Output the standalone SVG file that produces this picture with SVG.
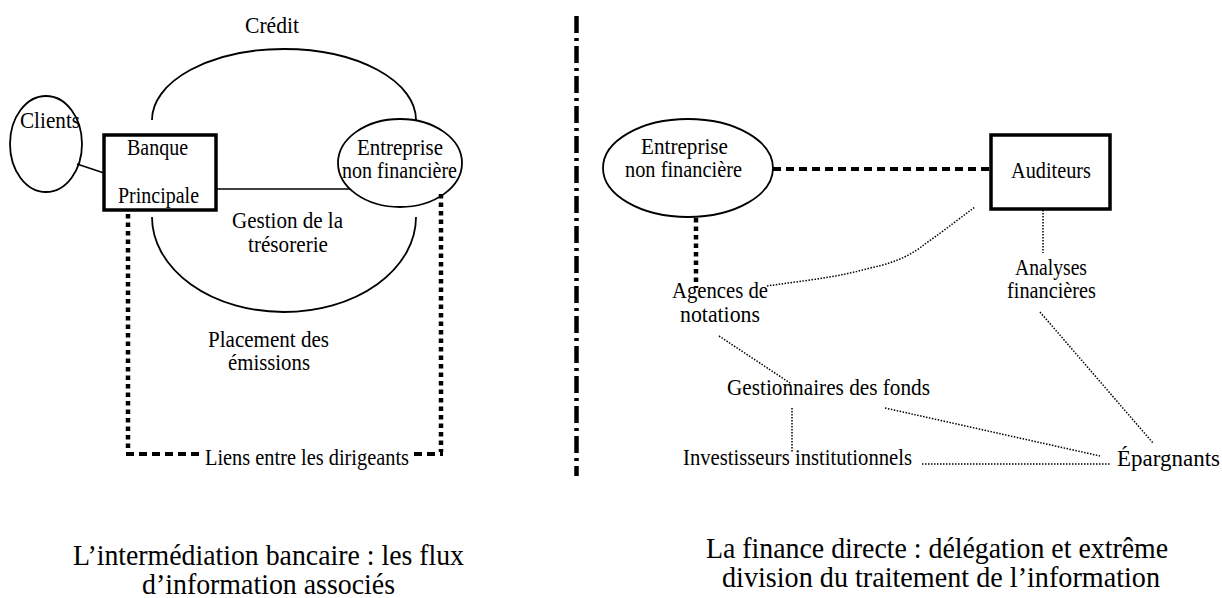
<svg xmlns="http://www.w3.org/2000/svg" width="1222" height="598" viewBox="0 0 1222 598">
  <style>
    text { font-family: "Liberation Serif", "Times New Roman", serif; font-size: 23px; fill: #000; }
    .title { font-size: 29px; }
    .shape { fill: none; stroke: #000; stroke-width: 1.8; }
    .box { fill: #fff; stroke: #000; stroke-width: 3.5; }
    .thin { fill: none; stroke: #000; stroke-width: 1.5; }
    .dots { fill: none; stroke: #000; stroke-width: 1.5; stroke-dasharray: 1.5 1.5; }
    .sq { fill: none; stroke: #000; stroke-width: 4.5; stroke-dasharray: 4.5 4; }
    .dash { fill: none; stroke: #000; stroke-width: 4; stroke-dasharray: 8 5; }
    .divider { fill: none; stroke: #000; stroke-width: 4.5; stroke-dasharray: 17 5 3 5; }
  </style>

  <!-- connectors and flows -->
  <g id="connectors">
    <!-- bank side -->
    <path class="shape" d="M152,120 A132,71 0 0 1 416,120"/>
    <path class="shape" d="M152,217 A132,95 0 0 0 416,217"/>
    <line class="thin" x1="77" y1="164" x2="104" y2="173"/>
    <line class="thin" x1="216" y1="189" x2="350" y2="189"/>
    <path class="sq" d="M128,214 V452"/>
    <path class="sq" d="M441,194 V452"/>
    <path class="dash" d="M126,454 H203"/>
    <path class="dash" d="M414,454 H443"/>

    <!-- separator -->
    <line class="divider" x1="576.5" y1="16" x2="576.5" y2="476"/>

    <!-- direct finance side -->
    <path class="dash" d="M773,169 H990" stroke-dasharray="9 5" stroke-width="3.8"/>
    <path class="sq" d="M696,218 V288"/>
    <path class="dots" d="M767,286 C800,281 835,278 870,268 C900,262 915,252 925,244 C945,230 960,218 975,207"/>
    <path class="dots" d="M1043,204 V253"/>
    <path class="dots" d="M719,336 L790,383"/>
    <path class="dots" d="M1040,312 L1153,443"/>
    <path class="dots" d="M792,408 V453"/>
    <path class="dots" d="M885,408 L1100,456"/>
    <path class="dots" d="M922,464 H1111"/>
  </g>

  <!-- bank-side nodes -->
  <g id="clients">
    <ellipse class="shape" cx="46" cy="144" rx="36" ry="48"/>
    <text x="20" y="128" textLength="60" lengthAdjust="spacingAndGlyphs">Clients</text>
  </g>
  <g id="banque">
    <rect class="box" x="104" y="135" width="112" height="75"/>
    <text x="127" y="155" textLength="61" lengthAdjust="spacingAndGlyphs">Banque</text>
    <text x="118" y="203" textLength="81" lengthAdjust="spacingAndGlyphs">Principale</text>
  </g>
  <g id="entreprise-1">
    <ellipse class="shape" cx="400" cy="163" rx="62" ry="44" fill="#fff"/>
    <text x="357" y="155" textLength="86" lengthAdjust="spacingAndGlyphs">Entreprise</text>
    <text x="342" y="178" textLength="115" lengthAdjust="spacingAndGlyphs">non financière</text>
  </g>
  <g id="labels-1">
    <text x="245" y="33" textLength="54" lengthAdjust="spacingAndGlyphs">Crédit</text>
    <text x="232" y="228" textLength="111" lengthAdjust="spacingAndGlyphs">Gestion de la</text>
    <text x="248" y="252" textLength="80" lengthAdjust="spacingAndGlyphs">trésorerie</text>
    <text x="208" y="347" textLength="121" lengthAdjust="spacingAndGlyphs">Placement des</text>
    <text x="228" y="370" textLength="82" lengthAdjust="spacingAndGlyphs">émissions</text>
    <text x="205" y="465" textLength="204" lengthAdjust="spacingAndGlyphs">Liens entre les dirigeants</text>
  </g>

  <!-- direct-finance nodes -->
  <g id="entreprise-2">
    <ellipse class="shape" cx="688" cy="168" rx="85" ry="49"/>
    <text x="641" y="154" textLength="87" lengthAdjust="spacingAndGlyphs">Entreprise</text>
    <text x="625" y="177" textLength="117" lengthAdjust="spacingAndGlyphs">non financière</text>
  </g>
  <g id="auditeurs">
    <rect class="box" x="991" y="135" width="119" height="74"/>
    <text x="1011" y="178" textLength="80" lengthAdjust="spacingAndGlyphs">Auditeurs</text>
  </g>
  <g id="analyses">
    <text x="1015" y="275" textLength="72" lengthAdjust="spacingAndGlyphs">Analyses</text>
    <text x="1007" y="298" textLength="89" lengthAdjust="spacingAndGlyphs">financières</text>
  </g>
  <g id="agences">
    <text x="672" y="298" textLength="96" lengthAdjust="spacingAndGlyphs">Agences de</text>
    <text x="680" y="322" textLength="80" lengthAdjust="spacingAndGlyphs">notations</text>
  </g>
  <g id="gestionnaires">
    <text x="727" y="395" textLength="203" lengthAdjust="spacingAndGlyphs">Gestionnaires des fonds</text>
  </g>
  <g id="investisseurs">
    <text x="683" y="465" textLength="229" lengthAdjust="spacingAndGlyphs">Investisseurs institutionnels</text>
  </g>
  <g id="epargnants">
    <text x="1117" y="466" textLength="103" lengthAdjust="spacingAndGlyphs">Épargnants</text>
  </g>

  <!-- captions -->
  <g id="captions">
    <text class="title" x="73" y="565" textLength="391" lengthAdjust="spacingAndGlyphs">L’intermédiation bancaire : les flux</text>
    <text class="title" x="142" y="594" textLength="253" lengthAdjust="spacingAndGlyphs">d’information associés</text>
    <text class="title" x="706" y="558" textLength="462" lengthAdjust="spacingAndGlyphs">La finance directe : délégation et extrême</text>
    <text class="title" x="722" y="587" textLength="438" lengthAdjust="spacingAndGlyphs">division du traitement de l’information</text>
  </g>
</svg>
